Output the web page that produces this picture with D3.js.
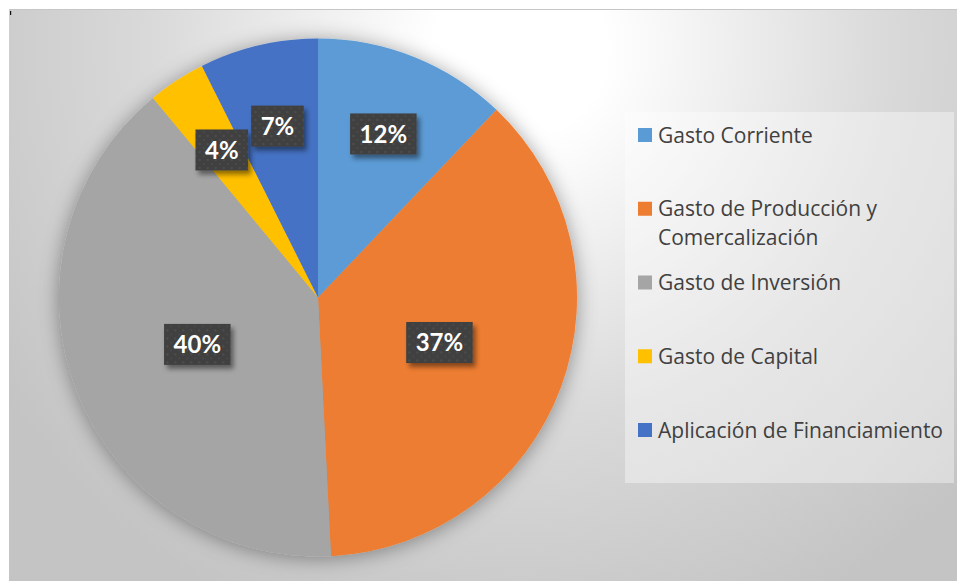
<!DOCTYPE html>
<html>
<head>
<meta charset="utf-8">
<script src="https://cdn.jsdelivr.net/npm/d3@7"></script>
<style>
  body { margin: 0; background: #fff; }
  svg { display: block; }
</style>
</head>
<body>
<script>
// DATA
const categories = ["Gasto Corriente", "Gasto de Producción y Comercalización", "Gasto de Inversión", "Gasto de Capital", "Aplicación de Financiamiento"];
const legendLines = [["Gasto Corriente"], ["Gasto de Producción y", "Comercalización"], ["Gasto de Inversión"], ["Gasto de Capital"], ["Aplicación de Financiamiento"]];
const shares = [12.1, 37.1, 39.8, 3.6, 7.4];
const colors = ["#5B9BD5", "#ED7D31", "#A5A5A5", "#FFC000", "#4472C4"];

const W = 957, H = 581;
const cx = 318, cy = 297.5, R = 259;

const svg = d3.select("body").append("svg")
  .attr("width", W)
  .attr("height", H);

const defs = svg.append("defs");

const bg = defs.append("radialGradient")
  .attr("id", "bg")
  .attr("gradientUnits", "userSpaceOnUse")
  .attr("cx", 520).attr("cy", 50).attr("r", 620);
bg.append("stop").attr("offset", 0).attr("stop-color", "#ffffff");
bg.append("stop").attr("offset", 0.14).attr("stop-color", "#ffffff");
bg.append("stop").attr("offset", 0.6).attr("stop-color", "#d9d9d9");
bg.append("stop").attr("offset", 1).attr("stop-color", "#c4c4c4");

const pieShadow = defs.append("filter").attr("id", "pieShadow")
  .attr("x", -0.2).attr("y", -0.2).attr("width", 1.4).attr("height", 1.4);
pieShadow.append("feDropShadow")
  .attr("dx", 0).attr("dy", 2).attr("stdDeviation", 10)
  .attr("flood-color", "#000").attr("flood-opacity", 0.38);

const boxShadow = defs.append("filter").attr("id", "boxShadow")
  .attr("x", -0.3).attr("y", -0.3).attr("width", 1.6).attr("height", 1.6);
boxShadow.append("feDropShadow")
  .attr("dx", 3).attr("dy", 4).attr("stdDeviation", 2.5)
  .attr("flood-color", "#000").attr("flood-opacity", 0.45);

const dots = defs.append("pattern").attr("id", "dots")
  .attr("patternUnits", "userSpaceOnUse")
  .attr("width", 8).attr("height", 8);
dots.append("rect").attr("width", 8).attr("height", 8).attr("fill", "#404040");
dots.append("circle").attr("cx", 2).attr("cy", 2).attr("r", 1.1).attr("fill", "#505050");
dots.append("circle").attr("cx", 6).attr("cy", 6).attr("r", 1.1).attr("fill", "#4a4a4a");

// chart area
svg.append("rect")
  .attr("x", 9).attr("y", 9)
  .attr("width", W - 9).attr("height", H - 9)
  .attr("fill", "url(#bg)");
svg.append("line")
  .attr("x1", 9).attr("x2", W).attr("y1", 9.5).attr("y2", 9.5)
  .attr("stroke", "#c6c6c6");
svg.append("rect")
  .attr("x", 10).attr("y", 11).attr("width", 1.2).attr("height", 4)
  .attr("fill", "#111");

// PIE
const pie = d3.pie().sort(null).value(d => d);
const arcs = pie(shares);
const arc = d3.arc().innerRadius(0).outerRadius(R);

const g = svg.append("g").attr("transform", `translate(${cx},${cy})`);

g.append("g")
  .attr("filter", "url(#pieShadow)")
  .selectAll("path")
  .data(arcs)
  .enter()
  .append("path")
  .attr("d", arc)
  .attr("fill", (d, i) => colors[i]);

// labels: big slices at half radius, small ones further out
const labelArc = d => {
  const r = d.data > 25 ? R * 0.5 : R * 0.68;
  return d3.arc().innerRadius(r).outerRadius(r).centroid(d);
};

const labels = g.selectAll(".lbl")
  .data(arcs)
  .enter()
  .append("g")
  .attr("class", "lbl")
  .attr("transform", d => `translate(${labelArc(d)})`);

labels.append("text")
  .text(d => Math.round(d.data) + "%")
  .attr("text-anchor", "middle")
  .attr("dy", "0.36em")
  .attr("fill", "#fff")
  .style("font-family", "Lato, 'Open Sans', sans-serif")
  .style("font-weight", "bold")
  .style("font-size", "24px")
  .each(function() {
    const w = this.getComputedTextLength() + 19;
    d3.select(this.parentNode).insert("rect", "text")
      .attr("x", -w / 2).attr("y", -20.5)
      .attr("width", w).attr("height", 41)
      .attr("fill", "url(#dots)")
      .attr("filter", "url(#boxShadow)");
  });

// LEGEND
svg.append("rect")
  .attr("x", 625).attr("y", 112)
  .attr("width", 329).attr("height", 371)
  .attr("fill", "#ffffff")
  .attr("fill-opacity", 0.38);

const ly = d3.scalePoint().domain(categories).range([135, 430]);

const items = svg.selectAll(".leg")
  .data(categories)
  .enter()
  .append("g")
  .attr("class", "leg")
  .attr("transform", d => `translate(638,${ly(d)})`);

items.append("rect")
  .attr("x", 0).attr("y", -7)
  .attr("width", 14).attr("height", 14)
  .attr("fill", (d, i) => colors[i]);

items.append("text")
  .attr("x", 20)
  .attr("fill", "#404040")
  .style("font-family", "'Open Sans', Lato, sans-serif")
  .style("font-size", "21px")
  .selectAll("tspan")
  .data((d, i) => legendLines[i])
  .enter()
  .append("tspan")
  .attr("x", 20)
  .attr("y", (d, j) => j * 29)
  .attr("dy", "0.36em")
  .text(d => d);
</script>
</body>
</html>
